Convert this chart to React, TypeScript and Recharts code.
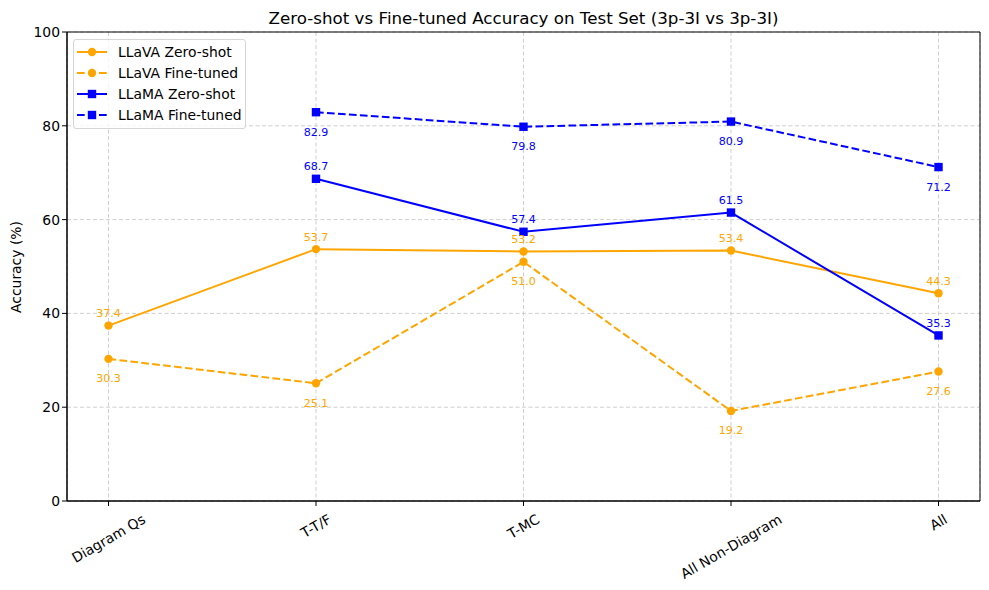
import React from 'react';
import {
  LineChart, Line, XAxis, YAxis, CartesianGrid, ReferenceArea, LabelList, Legend
} from 'recharts';

const categories = ['Diagram Qs', 'T-T/F', 'T-MC', 'All Non-Diagram', 'All'];
const llavaZero = [37.4, 53.7, 53.2, 53.4, 44.3];
const llavaFine = [30.3, 25.1, 51.0, 19.2, 27.6];
const llamaZero = [null, 68.7, 57.4, 61.5, 35.3];
const llamaFine = [null, 82.9, 79.8, 80.9, 71.2];
const yTicks = [0, 20, 40, 60, 80, 100];

const ORANGE = '#FFA500';
const BLUE = '#0000FF';
const FONT = '"DejaVu Sans", sans-serif';

const data = categories.map((name, i) => ({
  idx: i,
  name,
  llavaZero: llavaZero[i],
  llavaFine: llavaFine[i],
  llamaZero: llamaZero[i],
  llamaFine: llamaFine[i],
}));

let ctx: CanvasRenderingContext2D | null = null;
const textWidth = (t: string, size: number) => {
  if (!ctx) ctx = document.createElement('canvas').getContext('2d');
  if (!ctx) return t.length * size * 0.6;
  ctx.font = `${size}px "DejaVu Sans"`;
  return ctx.measureText(t).width;
};

// rotated 30deg, centred under the tick like matplotlib
const XTick = (props: any) => {
  const { x, y, payload } = props;
  const label = categories[payload.value] ?? '';
  const size = 13.9;
  const w = textWidth(label, size);
  const h = w * 0.5 + 16 * 0.866;
  const cy = y + 3 + h / 2;
  return (
    <text
      x={x}
      y={cy}
      textAnchor="middle"
      dominantBaseline="central"
      fontSize={size}
      fontFamily={FONT}
      fill="#000"
      transform={`rotate(-30, ${x}, ${cy})`}
    >
      {label}
    </text>
  );
};

const Square = (color: string) => (props: any) => {
  const { cx, cy, index } = props;
  if (cx == null || cy == null || props.value == null) return <g key={`s-${index}`} />;
  return <rect key={`s-${index}`} x={cx - 4.2} y={cy - 4.2} width={8.4} height={8.4} fill={color} />;
};

const valueLabel = (color: string, dy: number) => (props: any) => {
  const { x, y, value, index } = props;
  if (value == null || x == null || y == null) return null;
  return (
    <text key={`l-${index}`} x={x} y={y + dy} textAnchor="middle" dominantBaseline="central"
      fontSize={11.1} fontFamily={FONT} fill={color}>
      {Number(value).toFixed(1)}
    </text>
  );
};

const legendItems = [
  { name: 'LLaVA Zero-shot', color: ORANGE, dashed: false, square: false },
  { name: 'LLaVA Fine-tuned', color: ORANGE, dashed: true, square: false },
  { name: 'LLaMA Zero-shot', color: BLUE, dashed: false, square: true },
  { name: 'LLaMA Fine-tuned', color: BLUE, dashed: true, square: true },
];

const renderLegend = () => (
  <div style={{
    width: 171, height: 86, border: '1px solid #d6d6d6', borderRadius: 3,
    background: 'rgba(255,255,255,0.8)', paddingTop: 2, boxSizing: 'content-box',
  }}>
    {legendItems.map(it => (
      <div key={it.name} style={{ display: 'flex', alignItems: 'center', height: 20.8 }}>
        <svg width={44} height={12} style={{ flexShrink: 0 }}>
          <line x1={3} y1={6} x2={33} y2={6} stroke={it.color} strokeWidth={2}
            strokeDasharray={it.dashed ? '7.7 3.3' : undefined} />
          {it.square
            ? <rect x={13.8} y={1.8} width={8.4} height={8.4} fill={it.color} />
            : <circle cx={18} cy={6} r={4.2} fill={it.color} />}
        </svg>
        <span style={{ fontSize: 13.9, fontFamily: FONT, color: '#000', whiteSpace: 'nowrap' }}>{it.name}</span>
      </div>
    ))}
  </div>
);

export default function App() {
  return (
    <div style={{ position: 'absolute', left: 0, top: 0, width: 989, height: 590, background: '#fff', fontFamily: FONT }}>
      <div style={{
        position: 'absolute', left: 67, top: 8, width: 913, textAlign: 'center',
        fontSize: 16.7, lineHeight: '20px', color: '#000',
      }}>
        Zero-shot vs Fine-tuned Accuracy on Test Set (3p-3I vs 3p-3I)
      </div>
      <div style={{
        position: 'absolute', left: 16 - 100, top: 266.5 - 9, width: 200, height: 18,
        textAlign: 'center', fontSize: 13.9, lineHeight: '18px', color: '#000',
        transform: 'rotate(-90deg)',
      }}>
        Accuracy (%)
      </div>
      <LineChart width={989} height={590} data={data} margin={{ top: 32, right: 9, bottom: 9, left: 0 }}>
        <CartesianGrid stroke="#cfcfcf" strokeDasharray="4 2.5" />
        <XAxis
          dataKey="idx"
          type="number"
          domain={[-0.2, 4.2]}
          ticks={[0, 1, 2, 3, 4]}
          height={80}
          tick={<XTick />}
          tickSize={5}
          tickLine={{ stroke: '#000' }}
          axisLine={{ stroke: '#000' }}
          interval={0}
        />
        <YAxis
          domain={[0, 100]}
          ticks={yTicks}
          width={67}
          tickSize={5}
          tickMargin={2}
          tick={{ fill: '#000', fontSize: 13.9, fontFamily: FONT }}
          tickLine={{ stroke: '#000' }}
          axisLine={{ stroke: '#000' }}
        />
        <ReferenceArea x1={-0.2} x2={4.2} y1={0} y2={100} fill="none" stroke="#000" strokeWidth={1} />
        <Legend
          layout="vertical"
          align="center"
          verticalAlign="middle"
          content={renderLegend}
          wrapperStyle={{ left: 73, top: 39, width: 'auto', height: 'auto' }}
        />
        <Line type="linear" dataKey="llavaZero" name="LLaVA Zero-shot" stroke={ORANGE} strokeWidth={2}
          dot={{ r: 4.2, fill: ORANGE, stroke: ORANGE, strokeWidth: 0 }} activeDot={false} isAnimationActive={false}>
          <LabelList dataKey="llavaZero" content={valueLabel(ORANGE, -12)} />
        </Line>
        <Line type="linear" dataKey="llavaFine" name="LLaVA Fine-tuned" stroke={ORANGE} strokeWidth={2}
          strokeDasharray="7.7 3.3"
          dot={{ r: 4.2, fill: ORANGE, stroke: ORANGE, strokeWidth: 0, strokeDasharray: '' }} activeDot={false} isAnimationActive={false}>
          <LabelList dataKey="llavaFine" content={valueLabel(ORANGE, 20)} />
        </Line>
        <Line type="linear" dataKey="llamaZero" name="LLaMA Zero-shot" stroke={BLUE} strokeWidth={2}
          dot={Square(BLUE)} activeDot={false} isAnimationActive={false}>
          <LabelList dataKey="llamaZero" content={valueLabel(BLUE, -12)} />
        </Line>
        <Line type="linear" dataKey="llamaFine" name="LLaMA Fine-tuned" stroke={BLUE} strokeWidth={2}
          strokeDasharray="7.7 3.3"
          dot={Square(BLUE)} activeDot={false} isAnimationActive={false}>
          <LabelList dataKey="llamaFine" content={valueLabel(BLUE, 20)} />
        </Line>
      </LineChart>
    </div>
  );
}
